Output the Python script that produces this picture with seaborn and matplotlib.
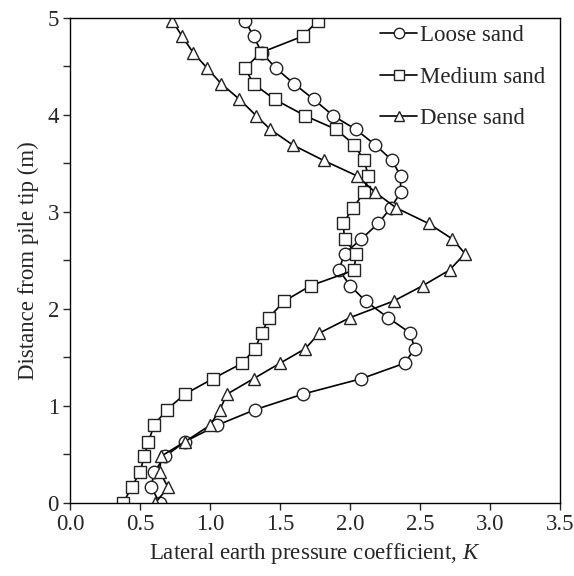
import numpy as np
import pandas as pd
import matplotlib
matplotlib.use("Agg")
import matplotlib.pyplot as plt
import seaborn as sns

depth = [0.00, 0.16, 0.32, 0.48, 0.63, 0.80, 0.96, 1.12, 1.28, 1.44, 1.59, 1.75,
         1.91, 2.08, 2.24, 2.40, 2.57, 2.72, 2.88, 3.04, 3.20, 3.37, 3.53, 3.69,
         3.85, 3.99, 4.16, 4.32, 4.48, 4.64, 4.81, 4.97]

loose = [0.64, 0.58, 0.60, 0.68, 0.82, 1.05, 1.32, 1.66, 2.08, 2.39, 2.46, 2.43,
         2.27, 2.11, 2.00, 1.92, 1.96, 2.08, 2.20, 2.29, 2.36, 2.36, 2.30, 2.18,
         2.04, 1.88, 1.74, 1.60, 1.47, 1.37, 1.31, 1.25]

medium = [0.38, 0.44, 0.50, 0.53, 0.56, 0.60, 0.69, 0.82, 1.02, 1.23, 1.32, 1.37,
          1.42, 1.53, 1.72, 2.03, 2.04, 1.96, 1.95, 2.02, 2.10, 2.13, 2.10, 2.03,
          1.90, 1.68, 1.46, 1.31, 1.25, 1.36, 1.66, 1.77]

dense = [0.61, 0.70, 0.64, 0.65, 0.82, 1.00, 1.07, 1.12, 1.31, 1.50, 1.68, 1.78,
         2.00, 2.31, 2.52, 2.71, 2.82, 2.73, 2.56, 2.33, 2.18, 2.05, 1.81, 1.59,
         1.43, 1.33, 1.21, 1.08, 0.98, 0.88, 0.80, 0.73]

labels = ["Loose sand", "Medium sand", "Dense sand"]

df = pd.concat([
    pd.DataFrame({"K": loose, "depth": depth, "soil": labels[0]}),
    pd.DataFrame({"K": medium, "depth": depth, "soil": labels[1]}),
    pd.DataFrame({"K": dense, "depth": depth, "soil": labels[2]}),
], ignore_index=True)

sns.set_style("ticks")
plt.rcParams["font.family"] = ["Liberation Serif", "DejaVu Serif"]
plt.rcParams["mathtext.fontset"] = "custom"
plt.rcParams["mathtext.it"] = "Liberation Serif:italic"
plt.rcParams["mathtext.rm"] = "Liberation Serif"

FS = 16.5

fig = plt.figure(figsize=(5.74, 5.76), dpi=100)
ax = fig.add_axes([0.122, 0.127, 0.854, 0.842])

sns.lineplot(data=df, x="K", y="depth", style="soil", style_order=labels,
             markers={"Loose sand": "o", "Medium sand": "s", "Dense sand": "^"},
             dashes=False, sort=False, estimator=None, color="black",
             markersize=9, markerfacecolor="white", markeredgecolor="#222222",
             markeredgewidth=1.0, linewidth=1.2, ax=ax, legend=True)

ax.set_xlim(0, 3.5)
ax.set_ylim(0, 5)
ax.set_xticks(np.arange(0, 3.51, 0.5))
ax.set_xticklabels([f"{v:.1f}" for v in np.arange(0, 3.51, 0.5)])
ax.set_yticks(np.arange(0, 5.01, 0.5))
ax.set_yticklabels([str(int(v)) if abs(v - round(v)) < 1e-9 else "" for v in np.arange(0, 5.01, 0.5)])
ax.tick_params(direction="out", length=5, width=1, labelsize=FS, top=False, right=False, pad=3)
for s in ax.spines.values():
    s.set_visible(True)
    s.set_linewidth(1.0)
    s.set_color("black")

ax.set_xlabel("Lateral earth pressure coefficient, $K$", fontsize=FS, labelpad=4)
ax.set_ylabel("Distance from pile tip (m)", fontsize=FS, labelpad=6)

handles, _ = ax.get_legend_handles_labels()
leg = ax.legend(handles, labels, loc="upper right", frameon=False, fontsize=FS,
                handlelength=1.6, labelspacing=0.9, borderaxespad=0.0,
                handletextpad=0.15, bbox_to_anchor=(0.989, 1.004))
for h in leg.legend_handles:
    h.set_markersize(7.5)

fig.savefig("out.png", dpi=100)
